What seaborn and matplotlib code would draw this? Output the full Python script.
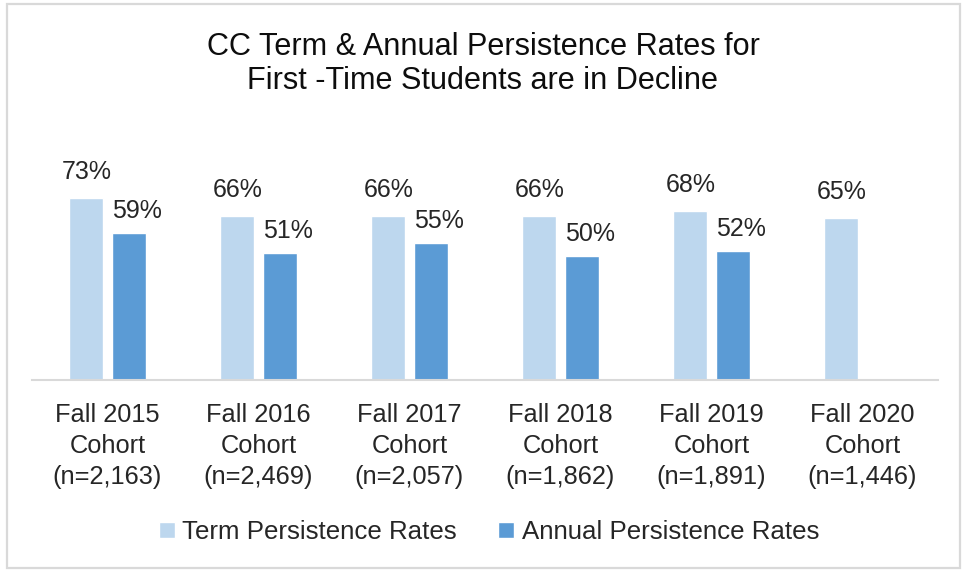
import matplotlib
matplotlib.use("Agg")
import matplotlib.pyplot as plt
import seaborn as sns
import pandas as pd
import numpy as np
from matplotlib.patches import Rectangle

cohorts = ["Fall 2015\nCohort\n(n=2,163)", "Fall 2016\nCohort\n(n=2,469)",
           "Fall 2017\nCohort\n(n=2,057)", "Fall 2018\nCohort\n(n=1,862)",
           "Fall 2019\nCohort\n(n=1,891)", "Fall 2020\nCohort\n(n=1,446)"]
term_rates = [73, 66, 66, 66, 68, 65]
annual_rates = [59, 51, 55, 50, 52, np.nan]
series_names = ["Term Persistence Rates", "Annual Persistence Rates"]
title_text = "CC Term & Annual Persistence Rates for\nFirst -Time Students are in Decline"

df = pd.DataFrame({
    "cohort": cohorts * 2,
    "rate": term_rates + annual_rates,
    "series": [series_names[0]] * len(cohorts) + [series_names[1]] * len(cohorts),
})

sns.set_theme(style="white")
plt.rcParams["font.family"] = ["Liberation Sans", "DejaVu Sans"]

fig = plt.figure(figsize=(9.64, 5.71), dpi=100)
fig.patch.set_facecolor("white")
ax = fig.add_axes([32 / 964, 1 - 380 / 571, (938 - 32) / 964, (380 - 181) / 571])

palette = {series_names[0]: "#BDD7EE", series_names[1]: "#5B9BD5"}
sns.barplot(data=df, x="cohort", y="rate", hue="series", hue_order=series_names,
            order=cohorts, palette=palette, width=0.575, gap=0.22,
            saturation=1, ax=ax, legend=True)

ax.set_ylim(0, 80)
ax.set_xlim(-0.5, len(cohorts) - 0.5)
ax.set_xlabel("")
ax.set_ylabel("")
ax.set_yticks([])
for s in ["left", "top", "right"]:
    ax.spines[s].set_visible(False)
ax.spines["bottom"].set_color("#D9D9D9")
ax.spines["bottom"].set_linewidth(1.5)
ax.tick_params(axis="x", length=0, pad=16.5, labelsize=18.3, labelcolor="#262626")
for lab in ax.get_xticklabels():
    lab.set_linespacing(1.38)
ax.set_facecolor("white")

offsets = [(1, 14), (8, 10)]
for ci, cont in enumerate(ax.containers):
    dx, dy = offsets[ci]
    for bar in cont:
        h = bar.get_height()
        if h is None or np.isnan(h) or h == 0:
            continue
        x = bar.get_x() + bar.get_width() / 2
        ax.annotate(f"{h:.0f}%", xy=(x, h), xytext=(dx, dy), textcoords="offset pixels",
                    ha="center", va="bottom", fontsize=18, color="#262626")

handles, labels = ax.get_legend_handles_labels()
if ax.legend_:
    ax.legend_.remove()
fig.legend(handles, labels, loc="center", bbox_to_anchor=(489 / 964, 1 - 532 / 571),
           ncol=2, frameon=False, fontsize=18.6, handlelength=0.6, handleheight=0.6,
           handletextpad=0.3, columnspacing=1.6, labelcolor="#262626")

fig.text(0.501, 1 - 64 / 571, title_text, ha="center", va="center", fontsize=22.1,
         color="#0d0d0d", linespacing=1.18)

fig.patches.append(Rectangle((6.5 / 964, 1 - 568 / 571), (960 - 6.5) / 964, (568 - 4) / 571,
                             transform=fig.transFigure, fill=False, edgecolor="#D9D9D9",
                             linewidth=1.6))

fig.savefig("out.png", dpi=100, facecolor="white")
